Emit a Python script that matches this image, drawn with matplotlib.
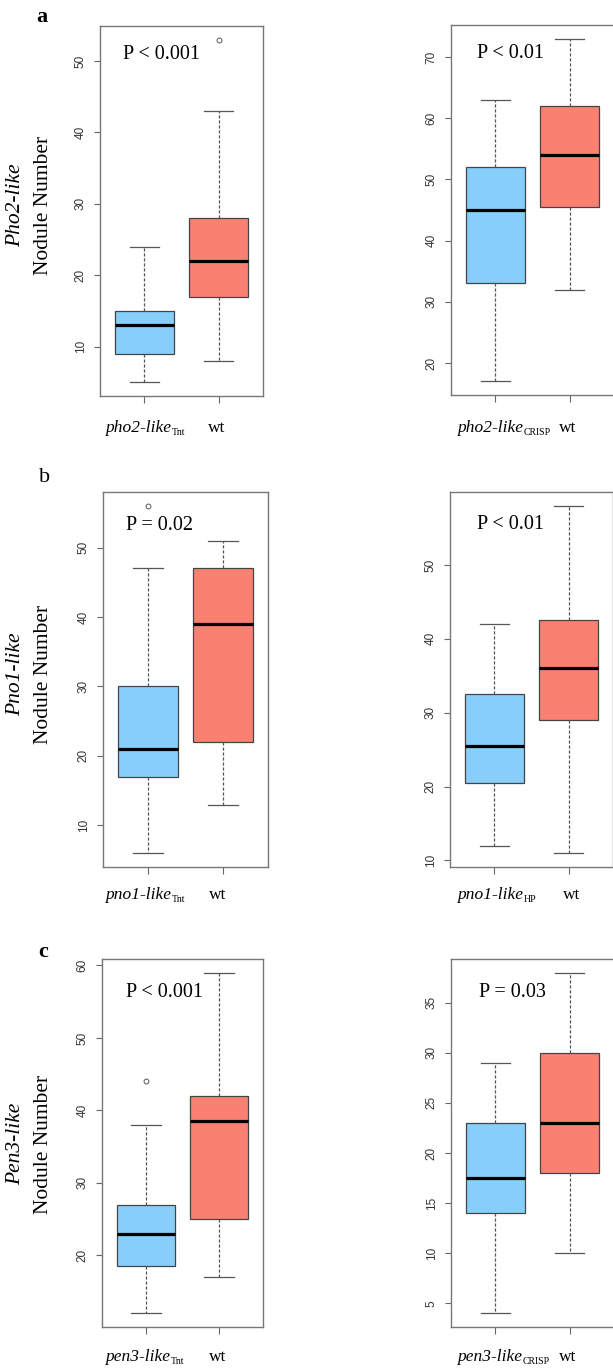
import numpy as np
import matplotlib.pyplot as plt

plt.rcParams['font.family'] = ['Liberation Serif', 'DejaVu Serif']

W, H = 613, 1370

# box summaries: [whisker low, Q1, median, Q3, whisker high]
pho2_tnt = [5, 9, 13, 15, 24]
pho2_tnt_wt = [8, 17, 22, 28, 43]
pho2_tnt_out = [[], [53]]

pho2_crisp = [17, 33, 45, 52, 63]
pho2_crisp_wt = [32, 45.5, 54, 62, 73]
pho2_crisp_out = [[], []]

pno1_tnt = [6, 17, 21, 30, 47]
pno1_tnt_wt = [13, 22, 39, 47, 51]
pno1_tnt_out = [[56], []]

pno1_hp = [12, 20.5, 25.5, 32.5, 42]
pno1_hp_wt = [11, 29, 36, 42.5, 58]
pno1_hp_out = [[], []]

pen3_tnt = [12, 18.5, 23, 27, 38]
pen3_tnt_wt = [17, 25, 38.5, 42, 59]
pen3_tnt_out = [[44], []]

pen3_crisp = [4, 14, 17.5, 23, 29]
pen3_crisp_wt = [10, 18, 23, 30, 38]
pen3_crisp_out = [[], []]

yticks_a1 = [10, 20, 30, 40, 50]
yticks_a2 = [20, 30, 40, 50, 60, 70]
yticks_b1 = [10, 20, 30, 40, 50]
yticks_b2 = [10, 20, 30, 40, 50]
yticks_c1 = [20, 30, 40, 50, 60]
yticks_c2 = [5, 10, 15, 20, 25, 30, 35]

pvalues = ['P < 0.001', 'P < 0.01', 'P = 0.02', 'P < 0.01', 'P < 0.001', 'P = 0.03']
mutants = ['pho2-like', 'pho2-like', 'pno1-like', 'pno1-like', 'pen3-like', 'pen3-like']
alleles = ['Tnt', 'CRISP', 'Tnt', 'HP', 'Tnt', 'CRISP']
genes = ['Pho2-like', 'Pno1-like', 'Pen3-like']
letters = ['a', 'b', 'c']

BLUE = '#87CEFA'
RED = '#FA8072'


def fx(x):
    return x / W


def fy(y):
    return 1 - y / H


def stats(s, out):
    lo, q1, med, q3, hi = s
    return dict(whislo=lo, q1=q1, med=med, q3=q3, whishi=hi, fliers=out)


fig = plt.figure(figsize=(W / 100, H / 100), dpi=100)

# layout in pixels: left, top, right, bottom
rects = [(100, 26, 263, 396), (451, 25, 614, 395),
         (103, 492, 268, 867), (450, 492, 613, 867),
         (102, 959, 263, 1327), (451, 959, 614, 1327)]
ptext_pos = [(0.38, 0.924), (0.362, 0.924), (0.345, 0.911),
             (0.374, 0.914), (0.386, 0.908), (0.374, 0.909)]
# x-label pixel positions: mutant label left edge, wt centre, baseline
xlab_pos = [(105, 217, 432), (457, 568, 432), (105, 218, 899),
            (457, 572, 899), (105, 218, 1361), (457, 568, 1361)]

data = [(pho2_tnt, pho2_tnt_wt, pho2_tnt_out, yticks_a1),
        (pho2_crisp, pho2_crisp_wt, pho2_crisp_out, yticks_a2),
        (pno1_tnt, pno1_tnt_wt, pno1_tnt_out, yticks_b1),
        (pno1_hp, pno1_hp_wt, pno1_hp_out, yticks_b2),
        (pen3_tnt, pen3_tnt_wt, pen3_tnt_out, yticks_c1),
        (pen3_crisp, pen3_crisp_wt, pen3_crisp_out, yticks_c2)]

for i, (mut, wt, out, yt) in enumerate(data):
    l, t, r, b = rects[i]
    ax = fig.add_axes([fx(l), fy(b), (r - l) / W, (b - t) / H])
    bp = ax.bxp([stats(mut, out[0]), stats(wt, out[1])], positions=[1, 2],
                widths=0.8, patch_artist=True,
                boxprops=dict(edgecolor='#444444', linewidth=0.9),
                whiskerprops=dict(color='#555555', linewidth=0.9, linestyle=(0, (2.5, 1.5))),
                capprops=dict(color='#555555', linewidth=0.9),
                medianprops=dict(color='black', linewidth=2.3),
                flierprops=dict(marker='o', markerfacecolor='none',
                                markeredgecolor='#555555', markersize=3.5, markeredgewidth=0.7))
    bp['boxes'][0].set_facecolor(BLUE)
    bp['boxes'][1].set_facecolor(RED)

    allv = mut + wt + out[0] + out[1]
    lo, hi = min(allv), max(allv)
    pad = 0.04 * (hi - lo)
    ax.set_ylim(lo - pad, hi + pad)
    ax.set_xlim(0.4, 2.6)
    ax.set_yticks(yt)
    ax.set_xticks([1, 2])
    ax.set_xticklabels(['', ''])
    ax.tick_params(axis='y', labelrotation=90, labelsize=8.5, length=4.5, width=0.8,
                   color='#666666', labelcolor='#333333', pad=5)
    ax.tick_params(axis='x', length=5, width=0.8, color='#666666')
    for lab in ax.get_yticklabels():
        lab.set_fontfamily('Liberation Sans')
        lab.set_verticalalignment('center')
    for sp in ax.spines.values():
        sp.set_color('#777777')
        sp.set_linewidth(1.0)

    ax.text(ptext_pos[i][0], ptext_pos[i][1], pvalues[i], transform=ax.transAxes,
            ha='center', va='center', fontsize=14.5)

    xm, xw, yb = xlab_pos[i]
    tx = fig.text(fx(xm), fy(yb), mutants[i], style='italic', fontsize=12.5,
                  ha='left', va='baseline')
    fig.text(fx(xw), fy(yb), 'wt', fontsize=12.5, ha='center', va='baseline')
    ax.annotate(alleles[i], xy=(1, 0), xycoords=tx, xytext=(0.5, -1),
                textcoords='offset points', fontsize=7, ha='left', va='bottom')

# row labels
ycent = [205, 674, 1144]
letter_pos = [(42, 17), (45, 477), (43, 952)]
for k in range(3):
    fig.text(fx(16), fy(ycent[k]), genes[k], rotation=90, style='italic',
             fontsize=15.5, ha='center', va='center')
    fig.text(fx(43), fy(ycent[k]), 'Nodule Number', rotation=90,
             fontsize=15.5, ha='center', va='center')
    fig.text(fx(letter_pos[k][0]), fy(letter_pos[k][1]), letters[k],
             fontsize=16, fontweight='normal' if k == 1 else 'bold',
             ha='center', va='center')

fig.savefig('out.png', dpi=100)
